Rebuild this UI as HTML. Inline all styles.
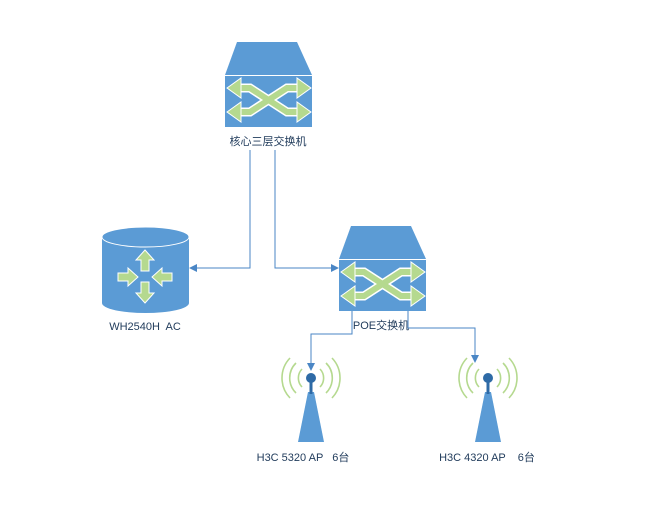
<!DOCTYPE html>
<html><head><meta charset="utf-8"><style>
html,body{margin:0;padding:0;background:#fff;}
svg{display:block;}
text{font-family:"Liberation Sans","Noto Sans CJK SC",sans-serif;font-size:11px;fill:#1f3a5a;white-space:pre;}
</style></head><body>
<svg width="655" height="513" viewBox="0 0 655 513" xmlns="http://www.w3.org/2000/svg" xml:space="preserve">
<defs>
<g id="sw">
 <polygon points="12,0 72,0 87,33 0,33" fill="#5b9bd5"/>
 <rect x="0" y="34" width="87" height="51" fill="#5b9bd5"/>
 <g fill="none" stroke="#fff" stroke-width="9" stroke-linejoin="miter">
  <path d="M8,46 H25 L62,70 H80"/><path d="M8,70 H25 L62,46 H80"/>
 </g>
 <g fill="none" stroke="#b5d98f" stroke-width="6">
  <path d="M8,46 H25 L62,70 H80"/><path d="M8,70 H25 L62,46 H80"/>
 </g>
 <g fill="#b5d98f" stroke="#fff" stroke-width="1">
  <polygon points="2,46 16,36 16,56"/><polygon points="2,70 16,60 16,80"/>
  <polygon points="86,46 72,36 72,56"/><polygon points="86,70 72,60 72,80"/>
 </g>
</g>
<g id="ap">
 <g fill="none" stroke="#b5d98f" stroke-width="1.6">
  <path d="M-9,-9 A13,13 0 0 0 -9,9"/><path d="M9,-9 A13,13 0 0 1 9,9"/>
  <path d="M-15,-15 A21,21 0 0 0 -15,15"/><path d="M15,-15 A21,21 0 0 1 15,15"/>
  <path d="M-21,-20 A29,29 0 0 0 -21,20"/><path d="M21,-20 A29,29 0 0 1 21,20"/>
 </g>
 <polygon points="-3,14 3,14 13,64 -13,64" fill="#5b9bd5"/>
 <rect x="-1.5" y="0" width="3" height="16" fill="#2e6aa6"/>
 <circle cx="0" cy="0" r="5" fill="#2e6aa6"/>
</g>
<marker id="ar" markerWidth="8" markerHeight="8" refX="7" refY="4" orient="auto" markerUnits="userSpaceOnUse">
 <polygon points="0,0 8,4 0,8" fill="#4a86c5"/>
</marker>
</defs>

<use href="#sw" x="225" y="42"/>
<text x="268" y="145" text-anchor="middle">核心三层交换机</text>

<use href="#sw" x="339" y="226"/>
<text x="381" y="329" text-anchor="middle">POE交换机</text>

<path d="M102,237 V303 A43.5,10 0 0 0 189,303 V237 Z" fill="#5b9bd5"/>
<ellipse cx="145.5" cy="237" rx="43.5" ry="10" fill="#5b9bd5" stroke="#fff" stroke-width="1"/>
<g fill="#b5d98f" stroke="#fff" stroke-width="1">
 <polygon points="145,250 154,260 149,260 149,271 141,271 141,260 136,260"/>
 <polygon points="145,303 154,293 149,293 149,282 141,282 141,293 136,293"/>
 <polygon points="138,277 128,268 128,273 118,273 118,281 128,281 128,286"/>
 <polygon points="152,277 162,268 162,273 172,273 172,281 162,281 162,286"/>
</g>
<text x="145" y="330" text-anchor="middle">WH2540H  AC</text>

<g fill="none" stroke="#4a86c5" stroke-width="1">
 <path d="M250,150 V268 H190" marker-end="url(#ar)"/>
 <path d="M275,150 V268 H338" marker-end="url(#ar)"/>
 <path d="M352,311 V334 H311 V370" marker-end="url(#ar)"/>
 <path d="M408,311 V328 H475 V362" marker-end="url(#ar)"/>
</g>

<use href="#ap" x="311" y="378"/>
<use href="#ap" x="488" y="378"/>
<text x="303" y="461" text-anchor="middle">H3C 5320 AP   6台</text>
<text x="487" y="461" text-anchor="middle">H3C 4320 AP    6台</text>
</svg>
</body></html>
